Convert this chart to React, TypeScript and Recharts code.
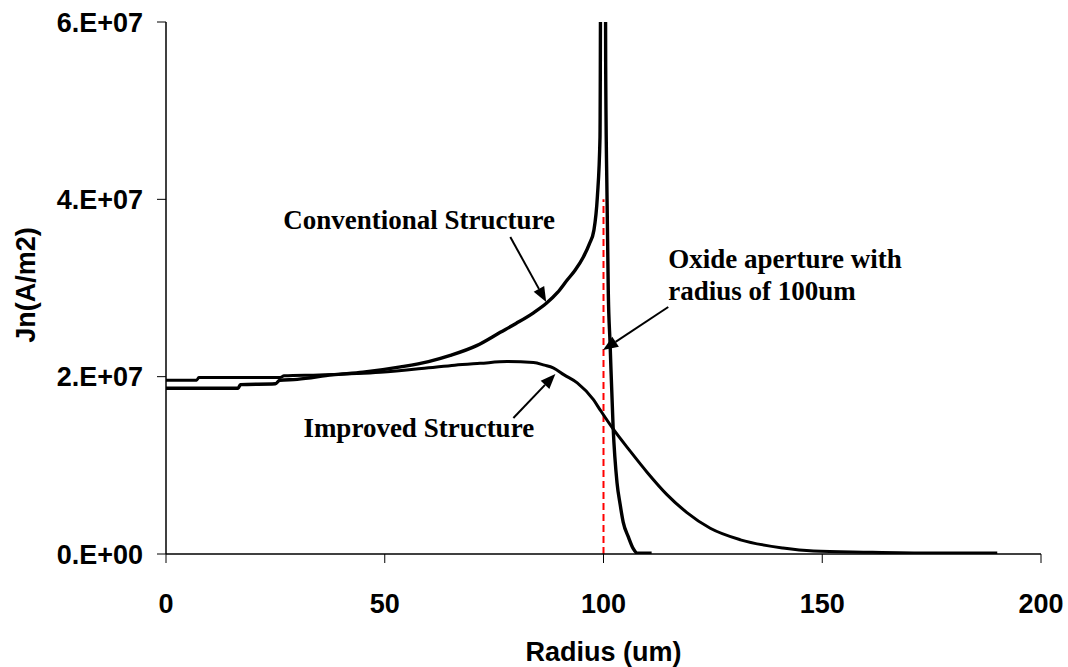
import React from 'react'
import { LineChart, Line, XAxis, YAxis, ReferenceLine, ReferenceDot, Label } from 'recharts'

// Conventional structure: Jn vs radius
const convRadius = [0, 16.5, 17, 25, 26, 30, 38, 45, 53.6, 60, 65, 71, 76.4, 80, 84, 87, 89.5, 91.7, 93.5, 95.4, 96.8, 97.8, 98.6, 99.2, 99.45, 100.35, 100.5, 100.8, 101.1, 101.5, 102.2, 103.1, 103.8, 104.5, 105.7, 106.8, 107.7, 111]
const convJn = [1.87e7, 1.87e7, 1.91e7, 1.92e7, 1.96e7, 1.97e7, 2.02e7, 2.05e7, 2.11e7, 2.17e7, 2.24e7, 2.35e7, 2.5e7, 2.6e7, 2.72e7, 2.83e7, 2.95e7, 3.09e7, 3.2e7, 3.35e7, 3.5e7, 3.65e7, 4.03e7, 4.7e7, 8e7, 8e7, 5.5e7, 4.05e7, 2.94e7, 2.38e7, 1.43e7, 8e6, 5.6e6, 3.6e6, 1.9e6, 6e5, 1e5, 1e5]

// Improved structure
const impRadius = [0, 7, 7.5, 26, 27, 35, 49, 60, 66, 71.8, 78, 84, 86.5, 88.5, 91, 94, 97.7, 99.3, 102.2, 106.1, 110, 114.5, 119, 124.4, 131.3, 141, 148, 160, 175, 190]
const impJn = [1.96e7, 1.96e7, 1.99e7, 1.99e7, 2.01e7, 2.02e7, 2.05e7, 2.1e7, 2.13e7, 2.15e7, 2.17e7, 2.16e7, 2.13e7, 2.1e7, 2.02e7, 1.93e7, 1.74e7, 1.62e7, 1.41e7, 1.16e7, 9.2e6, 6.7e6, 4.7e6, 2.9e6, 1.6e6, 6.8e5, 3.4e5, 2e5, 1e5, 1e5]

const xTicks = [0, 50, 100, 150, 200]
const yTicks = [0, 2e7, 4e7, 6e7]

const apertureRadius = 100
const apertureTop = 4e7

// annotation texts and arrows, in data coordinates
const notes = [
  { text: 'Conventional Structure', r: 26.8, jn: 3.665e7 },
  { text: 'Oxide aperture with', r: 114.8, jn: 3.226e7 },
  { text: 'radius of 100um', r: 114.8, jn: 2.865e7 },
  { text: 'Improved Structure', r: 31.4, jn: 1.32e7 },
]
const arrows = [
  { from: [78.7, 3.575e7], to: [86.9, 2.842e7] },
  { from: [114.8, 2.786e7], to: [99.9, 2.3e7] },
  { from: [79.4, 1.534e7], to: [89.0, 2.03e7] },
]

const convData = convRadius.map((r, i) => ({ r, jn: convJn[i] }))
const impData = impRadius.map((r, i) => ({ r, jn: impJn[i] }))

const fmtY = (v: number) => (v === 0 ? '0.E+00' : `${Math.round(v / 1e7)}.E+07`)

const sans = '"Liberation Sans", Arial, sans-serif'
const serif = '"Liberation Serif", "Times New Roman", serif'
const tickStyle = { fontFamily: sans, fontSize: 27, fontWeight: 700, fill: '#000' }

function Arrow(props: any) {
  const { x1, y1, x2, y2 } = props
  const a = Math.atan2(y2 - y1, x2 - x1)
  const len = 15
  const half = 6
  const bx = x2 - len * Math.cos(a)
  const by = y2 - len * Math.sin(a)
  const px = half * Math.sin(a)
  const py = -half * Math.cos(a)
  return (
    <g>
      <line x1={x1} y1={y1} x2={bx} y2={by} stroke="#000" strokeWidth={2} />
      <polygon points={`${x2},${y2} ${bx + px},${by + py} ${bx - px},${by - py}`} fill="#000" />
    </g>
  )
}

export default function App() {
  return (
    <div style={{ position: 'absolute', left: 0, top: 0, width: 1068, height: 667, background: '#fff' }}>
      <LineChart width={1068} height={667} margin={{ top: 22, right: 27, left: 0, bottom: 0 }}>
        <XAxis
          type="number"
          dataKey="r"
          domain={[0, 200]}
          ticks={xTicks}
          tick={tickStyle}
          tickSize={9}
          tickMargin={31}
          height={113}
          stroke="#000"
          axisLine={{ stroke: '#000', strokeWidth: 1.5 }}
          allowDuplicatedCategory={false}
        >
          <Label
            content={({ viewBox }: any) => (
              <text x={viewBox.x + viewBox.width / 2} y={661} textAnchor="middle" style={{ ...tickStyle }}>
                Radius (um)
              </text>
            )}
          />
        </XAxis>
        <YAxis
          type="number"
          dataKey="jn"
          domain={[0, 6e7]}
          ticks={yTicks}
          allowDataOverflow
          tickFormatter={fmtY}
          tick={tickStyle}
          tickSize={9}
          tickMargin={14}
          width={166}
          stroke="#000"
          axisLine={{ stroke: '#000', strokeWidth: 1.5 }}
        >
          <Label
            content={({ viewBox }: any) => {
              const cy = viewBox.y + viewBox.height / 2 - 3
              return (
                <text x={35} y={cy} transform={`rotate(-90 35 ${cy})`} textAnchor="middle" style={{ ...tickStyle }}>
                  Jn(A/m2)
                </text>
              )
            }}
          />
        </YAxis>
        <ReferenceLine
          segment={[{ x: apertureRadius, y: 0 }, { x: apertureRadius, y: apertureTop }]}
          stroke="#ff0000"
          strokeWidth={2}
          strokeDasharray="7 4"
        />
        <Line data={impData} dataKey="jn" type="monotoneX" stroke="#000" strokeWidth={3} dot={false} isAnimationActive={false} />
        <Line data={convData} dataKey="jn" type="monotoneX" stroke="#000" strokeWidth={3.4} dot={false} isAnimationActive={false} />
        {arrows.map((a, i) => (
          <ReferenceLine
            key={'a' + i}
            segment={[{ x: a.from[0], y: a.from[1] }, { x: a.to[0], y: a.to[1] }]}
            shape={Arrow}
          />
        ))}
        {notes.map((n) => (
          <ReferenceDot
            key={n.text}
            x={n.r}
            y={n.jn}
            r={0}
            shape={(p: any) => (
              <text x={p.cx} y={p.cy} style={{ fontFamily: serif, fontSize: 27, fontWeight: 700, fill: '#000' }}>
                {n.text}
              </text>
            )}
          />
        ))}
      </LineChart>
    </div>
  )
}
